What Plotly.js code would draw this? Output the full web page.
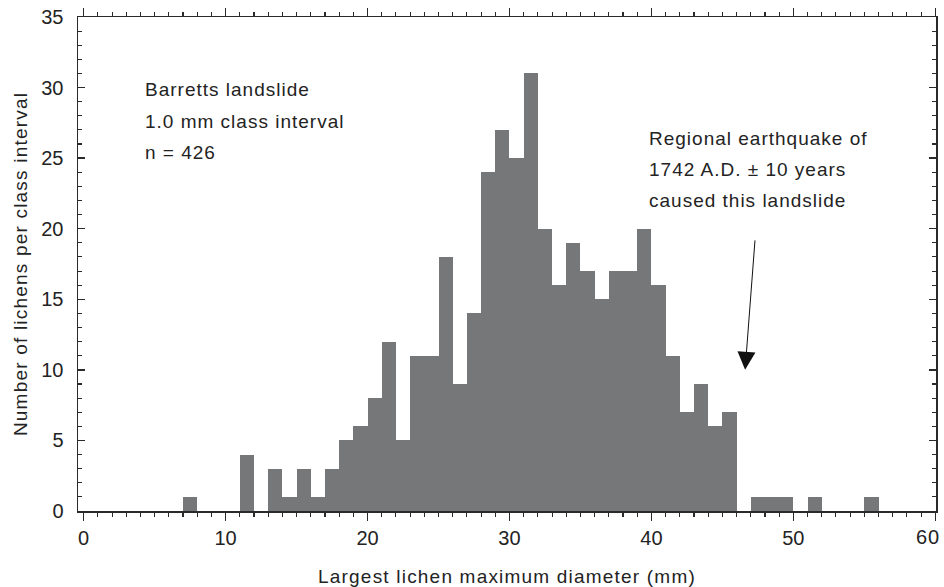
<!DOCTYPE html>
<html>
<head>
<meta charset="utf-8">
<script src="https://cdn.plot.ly/plotly-3.0.1.min.js"></script>
<style>
  html, body { margin: 0; padding: 0; background: #fff; }
  #chart { width: 944px; height: 587px; }
  .annotation-text { letter-spacing: 1px; }
  .xtitle, .ytitle { letter-spacing: 1.2px; }
</style>
</head>
<body>
<div id="chart"></div>
<script>
// Class interval (mm) and lower edges of each class
const classWidth = 1.0;
const binLower = [0,1,2,3,4,5,6,7,8,9,10,11,12,13,14,15,16,17,18,19,20,21,22,23,24,25,26,27,28,29,
                  30,31,32,33,34,35,36,37,38,39,40,41,42,43,44,45,46,47,48,49,50,51,52,53,54,55,56,57,58,59];
// Number of lichens per class interval
const counts = [0,0,0,0,0,0,0,1,0,0,0,4,0,3,1,3,1,3,5,6,8,12,5,11,11,18,9,14,24,27,
                25,31,20,16,19,17,15,17,17,20,16,11,7,9,6,7,0,1,1,1,0,1,0,0,0,1,0,0,0,0];

const xTickVals = [0,10,20,30,40,50,60];
const xTickText = ['0','10','20','30','40','50','60'];
const yTickVals = [0,5,10,15,20,25,30,35];

const infoLines = ["Barretts landslide", "1.0 mm class interval", "n = 426"];
const quakeLines = ["Regional earthquake of", "1742 A.D. \u00b1 10 years", "caused this landslide"];

const xCenters = binLower.map(v => v + classWidth / 2);

const trace = {
  type: 'bar',
  x: xCenters,
  y: counts,
  width: classWidth,
  marker: { color: '#767779', line: { width: 0 } },
  hoverinfo: 'x+y'
};

const fontFam = '"Liberation Sans", Arial, Helvetica, sans-serif';
const txtColor = '#232323';
const axColor = '#2a2a2a';

// the last tick label sits at the right page edge; it is drawn pulled slightly inward
const lastIdx = xTickVals.length - 1;
const shownTickText = xTickText.map((t, i) => i === lastIdx ? '' : t);

const annotations = [];
annotations.push({
  x: xTickVals[lastIdx], xref: 'x', y: 0, yref: 'paper', text: xTickText[lastIdx],
  showarrow: false, xanchor: 'center', yanchor: 'middle', xshift: -7, yshift: -26,
  font: { family: fontFam, size: 20, color: txtColor }
});
const infoY = [29.85, 27.6, 25.4];
infoLines.forEach((t, i) => annotations.push({
  x: 4.2, y: infoY[i], xref: 'x', yref: 'y', text: t, showarrow: false,
  xanchor: 'left', yanchor: 'middle', font: { family: fontFam, size: 19, color: txtColor }
}));
const quakeY = [26.4, 24.2, 22.0];
quakeLines.forEach((t, i) => annotations.push({
  x: 39.7, y: quakeY[i], xref: 'x', yref: 'y', text: t, showarrow: false,
  xanchor: 'left', yanchor: 'middle', font: { family: fontFam, size: 19, color: txtColor }
}));
annotations.push({
  x: 46.6, y: 10, xref: 'x', yref: 'y', text: '', showarrow: true,
  ax: 10, ay: -131, arrowhead: 2, arrowsize: 3.6, arrowwidth: 1, arrowcolor: '#111'
});

const layout = {
  width: 944, height: 587,
  margin: { l: 78, r: 8, t: 17, b: 76, pad: 0 },
  paper_bgcolor: '#fff', plot_bgcolor: '#fff',
  bargap: 0,
  showlegend: false,
  font: { family: fontFam, color: txtColor, size: 20 },
  xaxis: {
    range: [-0.4, 60.05],
    tickmode: 'array', tickvals: xTickVals, ticktext: shownTickText,
    ticks: 'outside', ticklen: 8, tickwidth: 1.3, tickcolor: axColor,
    minor: { dtick: 1, tick0: 0, ticks: 'outside', ticklen: 4, tickwidth: 1.1, tickcolor: axColor, showgrid: false },
    showline: true, linecolor: axColor, linewidth: 1.5, mirror: 'ticks',
    showgrid: false, zeroline: false,
    tickfont: { family: fontFam, size: 20, color: txtColor },
    title: { text: 'Largest lichen maximum diameter (mm)', font: { family: fontFam, size: 19, color: txtColor }, standoff: 22 }
  },
  yaxis: {
    range: [0, 35],
    tickmode: 'array', tickvals: yTickVals,
    ticks: 'inside', ticklen: 7, tickwidth: 1.3, tickcolor: axColor,
    minor: { dtick: 1, tick0: 0, ticks: 'inside', ticklen: 4, tickwidth: 1.1, tickcolor: axColor, showgrid: false },
    showline: true, linecolor: axColor, linewidth: 1.5, mirror: 'ticks',
    showgrid: false, zeroline: false,
    ticklabelstandoff: 9,
    tickfont: { family: fontFam, size: 20, color: txtColor },
    title: { text: 'Number of lichens per class interval', font: { family: fontFam, size: 19, color: txtColor }, standoff: 8 }
  },
  annotations: annotations
};

Plotly.newPlot('chart', [trace], layout, { displayModeBar: false, staticPlot: true });
</script>
</body>
</html>
